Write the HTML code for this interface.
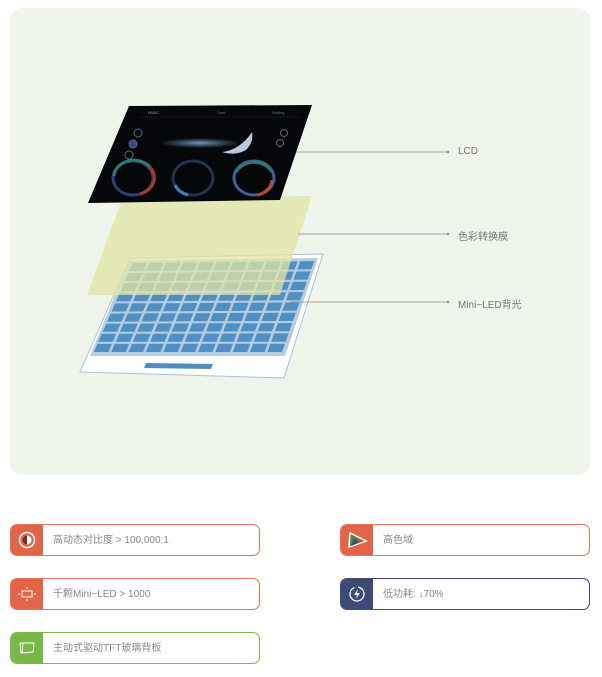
<!DOCTYPE html>
<html><head><meta charset="utf-8"><style>
body{margin:0;width:602px;height:677px;background:#fff;font-family:"Liberation Sans","Noto Sans CJK SC",sans-serif;position:relative;overflow:hidden}
.panel{position:absolute;left:10px;top:8px;width:580px;height:467px;background:#f0f5ec;border-radius:12px}
.card{position:absolute;width:248px;height:30px;border:1px solid;border-radius:7px;background:#fff;overflow:hidden}
.card .ic{position:absolute;left:0;top:0;width:32px;height:30px;display:flex;align-items:center;justify-content:center}
.card .t{position:absolute;left:42px;top:1px;line-height:30px;font-size:10px;color:#888}
.lbl{position:absolute;font-size:10px;color:#777}
</style></head><body>
<div class="panel"></div>
<svg width="602" height="677" style="position:absolute;left:0;top:0">
<defs>
<radialGradient id="mist" cx="0.5" cy="0.5" r="0.5"><stop offset="0" stop-color="#8fb4d8" stop-opacity=".8"/><stop offset="1" stop-color="#8fb4d8" stop-opacity="0"/></radialGradient>
</defs>
<polygon points="130,258 323,254 284,378 80,372" fill="#fff" stroke="#a9c2d6" stroke-width="1"/>
<polygon points="129,261 318,258 285,356 90,356" fill="#b6cde0"/>
<g id="cells"></g>
<polygon points="146,363 213,364 211,369 144,368" fill="#4f8dc0"/>
<polygon points="123,197 312,196 280,295 87,295" fill="#e2e4a6" fill-opacity=".75"/>
<polygon points="129,106 312,105 280,200 88,203" fill="#05070b"/>
<line x1="140" y1="117" x2="300" y2="117" stroke="#223" stroke-width=".5"/>
<text x="148" y="114" font-size="4" fill="#9ab">HVAC</text>
<text x="217" y="114" font-size="4" fill="#678">Seat</text>
<text x="272" y="114" font-size="4" fill="#678">Setting</text>
<ellipse cx="200" cy="143" rx="40" ry="5" fill="url(#mist)"/>
<path d="M222 152 Q240 150 252 132 Q254 142 246 150 Q236 156 222 152Z" fill="#b8c8d8"/>
<circle cx="138" cy="133" r="4" fill="none" stroke="#667"/>
<circle cx="133" cy="144" r="4" fill="#334a8a" stroke="#667"/>
<circle cx="129" cy="155" r="4" fill="none" stroke="#667"/>
<circle cx="284" cy="133" r="3.5" fill="none" stroke="#667"/>
<circle cx="280" cy="143" r="3.5" fill="none" stroke="#667"/>
<ellipse cx="133" cy="178" rx="20" ry="17" fill="none" stroke="#2f3f7a" stroke-width="3"/>
<path d="M114 176 A20 17 0 0 1 150 167" fill="none" stroke="#2f7a6a" stroke-width="3"/>
<path d="M150 167 A20 17 0 0 1 140 194" fill="none" stroke="#a33a2a" stroke-width="3"/>
<ellipse cx="193" cy="178" rx="20" ry="17" fill="none" stroke="#22334a" stroke-width="3"/>
<path d="M175 185 A20 17 0 0 0 188 195" fill="none" stroke="#3d7fbf" stroke-width="3"/>
<ellipse cx="254" cy="178" rx="20" ry="17" fill="none" stroke="#3f5fa0" stroke-width="3"/>
<path d="M236 172 A20 17 0 0 1 272 172" fill="none" stroke="#2f7a6a" stroke-width="3"/>
<path d="M272 180 A20 17 0 0 1 258 195" fill="none" stroke="#b84a2a" stroke-width="3"/>
<g stroke="#888" stroke-width="0.8">
<line x1="296" y1="152" x2="447" y2="152"/>
<line x1="298" y1="234" x2="447" y2="234"/>
<line x1="290" y1="302" x2="447" y2="302"/>
</g>
<g fill="#888"><circle cx="448" cy="152" r="1.2"/><circle cx="448" cy="234" r="1.2"/><circle cx="448" cy="302" r="1.2"/></g>
</svg>
<div class="lbl" style="left:458px;top:146px">LCD</div>
<div class="lbl" style="left:458px;top:228px">色彩转换膜</div>
<div class="lbl" style="left:458px;top:296px">Mini−LED背光</div>

<div class="card" style="left:10px;top:524px;border-color:#e8735a"><div class="ic" style="background:#e2654a"><svg width="18" height="18"><circle cx="9" cy="9" r="7.5" fill="none" stroke="#fff" stroke-width="1.5"/><circle cx="9" cy="9" r="4.5" fill="#fff"/><path d="M9 4.5 A4.5 4.5 0 0 0 9 13.5Z" fill="#7a2a1a"/></svg></div><div class="t">高动态对比度 &gt; 100,000:1</div></div>
<div class="card" style="left:10px;top:578px;border-color:#e8735a"><div class="ic" style="background:#e2654a"><svg width="18" height="14"><rect x="4" y="4" width="10" height="6" fill="none" stroke="#fff"/><g stroke="#fff"><line x1="9" y1="0" x2="9" y2="2"/><line x1="9" y1="12" x2="9" y2="14"/><line x1="0" y1="7" x2="2" y2="7"/><line x1="16" y1="7" x2="18" y2="7"/></g></svg></div><div class="t">千颗Mini−LED &gt; 1000</div></div>
<div class="card" style="left:10px;top:632px;border-color:#7dbb48"><div class="ic" style="background:#78b846"><svg width="18" height="14"><path d="M2 2 L16 2 L15 11 L3 12Z" fill="none" stroke="#fff"/><line x1="5" y1="2" x2="4" y2="12" stroke="#fff"/></svg></div><div class="t">主动式驱动TFT玻璃背板</div></div>
<div class="card" style="left:340px;top:524px;border-color:#e8735a"><div class="ic" style="background:#e2654a"><svg width="22" height="18"><polygon points="4,2 20,10 3,16" fill="#4a8a3a" stroke="#fff" stroke-width="1.5"/><polygon points="8,8 18,10 5,15" fill="#3a4a9a"/><polygon points="10,7 18,10 12,12" fill="#d04a3a"/></svg></div><div class="t">高色域</div></div>
<div class="card" style="left:340px;top:578px;border-color:#3d4a7a"><div class="ic" style="background:#3c4a78"><svg width="18" height="18"><circle cx="9" cy="9" r="7" fill="none" stroke="#fff" stroke-width="1.3" stroke-dasharray="30 4"/><path d="M10 4 L6 10 L9 10 L8 14 L12 8 L9 8Z" fill="#fff"/></svg></div><div class="t">低功耗: ↓70%</div></div>
<script>
var g=document.getElementById('cells');
var TL=[132,262],TR=[316,260],BR=[283,353],BL=[92,353];
function P(u,v){var a=[TL[0]+(TR[0]-TL[0])*u,TL[1]+(TR[1]-TL[1])*u],b=[BL[0]+(BR[0]-BL[0])*u,BL[1]+(BR[1]-BL[1])*u];return [a[0]+(b[0]-a[0])*v,a[1]+(b[1]-a[1])*v];}
var C=11,R=9,s='',gu=0.08,gv=0.1;
for(var i=0;i<C;i++)for(var j=0;j<R;j++){var u0=(i+gu)/C,u1=(i+1-gu)/C,v0=(j+gv)/R,v1=(j+1-gv)/R;
var p=[P(u0,v0),P(u1,v0),P(u1,v1),P(u0,v1)];
s+='<polygon points="'+p.map(function(q){return q[0].toFixed(1)+','+q[1].toFixed(1)}).join(' ')+'" fill="#4f8fc2"/>';}
g.innerHTML=s;
</script>
</body></html>
